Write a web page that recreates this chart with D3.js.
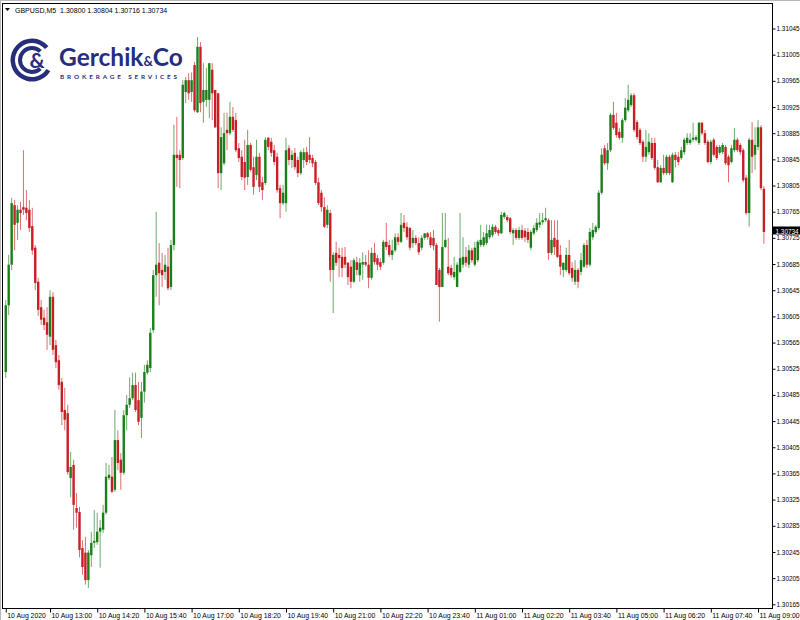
<!DOCTYPE html>
<html><head><meta charset="utf-8">
<script src="https://cdn.jsdelivr.net/npm/d3@7/dist/d3.min.js"></script>
<style>html,body{margin:0;padding:0;background:#fff;}svg{display:block;}</style>
</head><body><svg id="c" width="800" height="620"></svg>
<script>
const symbolTitle = "GBPUSD,M5";
const lastOHLC = ["1.30800","1.30804","1.30716","1.30734"];
const lastPrice = 1.30734;
const xTickLabels = ["10 Aug 2020","10 Aug 13:00","10 Aug 14:20","10 Aug 15:40","10 Aug 17:00","10 Aug 18:20","10 Aug 19:40","10 Aug 21:00","10 Aug 22:20","10 Aug 23:40","11 Aug 01:00","11 Aug 02:20","11 Aug 03:40","11 Aug 05:00","11 Aug 06:20","11 Aug 07:40","11 Aug 09:00"];
const xTickBars = [0,15,31,47,63,79,95,111,127,143,159,175,191,207,223,239,255];
const yTicks = [1.31045,1.31005,1.30965,1.30925,1.30885,1.30845,1.30805,1.30765,1.30725,1.30685,1.30645,1.30605,1.30565,1.30525,1.30485,1.30445,1.30405,1.30365,1.30325,1.30285,1.30245,1.30205,1.30165];

const openP = [
1.30520,1.30622,1.30684,1.30775,1.30748,1.30768,1.30772,1.30771,1.30768,1.30743,1.30710,1.30658,1.30619,1.30603,1.30596,1.30574,1.30635,1.30561,1.30538,1.30505,
1.30462,1.30457,1.30358,1.30378,1.30312,1.30306,1.30251,1.30244,1.30202,1.30240,1.30259,1.30260,1.30276,1.30279,1.30305,1.30358,1.30360,1.30340,1.30416,1.30386,
1.30366,1.30454,1.30470,1.30480,1.30500,1.30477,1.30450,1.30490,1.30519,1.30526,1.30584,1.30668,1.30687,1.30676,1.30673,1.30681,1.30650,1.30714,1.30852,1.30852,
1.30847,1.30948,1.30966,1.30948,1.30989,1.30917,1.31017,1.30933,1.30936,1.30936,1.30982,1.30951,1.30946,1.30824,1.30839,1.30890,1.30885,1.30910,1.30905,1.30862,
1.30849,1.30841,1.30818,1.30867,1.30833,1.30821,1.30849,1.30810,1.30809,1.30878,1.30872,1.30859,1.30849,1.30801,1.30778,1.30778,1.30862,1.30844,1.30855,1.30844,
1.30824,1.30844,1.30856,1.30852,1.30847,1.30841,1.30810,1.30794,1.30772,1.30745,1.30763,1.30676,1.30702,1.30699,1.30696,1.30696,1.30687,1.30681,1.30658,1.30688,
1.30668,1.30684,1.30688,1.30684,1.30664,1.30702,1.30694,1.30688,1.30687,1.30719,1.30714,1.30699,1.30706,1.30726,1.30719,1.30748,1.30742,1.30740,1.30717,1.30725,
1.30717,1.30710,1.30725,1.30732,1.30726,1.30725,1.30714,1.30676,1.30650,1.30711,1.30681,1.30679,1.30665,1.30650,1.30673,1.30684,1.30696,1.30684,1.30706,1.30684,
1.30691,1.30714,1.30714,1.30717,1.30726,1.30729,1.30742,1.30737,1.30732,1.30757,1.30757,1.30755,1.30732,1.30737,1.30725,1.30737,1.30736,1.30734,1.30710,1.30732,
1.30737,1.30745,1.30749,1.30752,1.30752,1.30702,1.30725,1.30722,1.30699,1.30676,1.30676,1.30699,1.30679,1.30658,1.30676,1.30673,1.30681,1.30714,1.30684,1.30726,
1.30734,1.30740,1.30794,1.30862,1.30839,1.30859,1.30913,1.30901,1.30887,1.30878,1.30905,1.30920,1.30928,1.30943,1.30902,1.30890,1.30872,1.30849,1.30856,1.30870,
1.30870,1.30833,1.30810,1.30832,1.30824,1.30849,1.30810,1.30852,1.30849,1.30847,1.30856,1.30870,1.30870,1.30875,1.30875,1.30870,1.30901,1.30885,1.30872,1.30841,
1.30875,1.30864,1.30855,1.30856,1.30864,1.30849,1.30841,1.30859,1.30875,1.30867,1.30859,1.30817,1.30763,1.30875,1.30852,1.30864,1.30894,1.30800];
const highP = [
1.30630,1.30699,1.30786,1.30783,1.30775,1.30780,1.30859,1.30798,1.30783,1.30771,1.30714,1.30664,1.30630,1.30615,1.30619,1.30645,1.30642,1.30569,1.30546,1.30511,
1.30496,1.30470,1.30398,1.30386,1.30335,1.30314,1.30263,1.30268,1.30248,1.30276,1.30309,1.30305,1.30294,1.30317,1.30381,1.30378,1.30390,1.30462,1.30431,1.30396,
1.30462,1.30485,1.30512,1.30519,1.30519,1.30505,1.30505,1.30531,1.30538,1.30587,1.30676,1.30765,1.30717,1.30702,1.30699,1.30710,1.30722,1.30898,1.30910,1.30859,
1.30966,1.30971,1.30977,1.30978,1.30994,1.31032,1.31024,1.30992,1.30985,1.30992,1.30992,1.30951,1.30946,1.30894,1.30916,1.30916,1.30933,1.30925,1.30916,1.30870,
1.30859,1.30875,1.30890,1.30870,1.30849,1.30875,1.30855,1.30818,1.30879,1.30879,1.30878,1.30867,1.30855,1.30806,1.30806,1.30878,1.30867,1.30859,1.30862,1.30849,
1.30859,1.30862,1.30864,1.30879,1.30852,1.30844,1.30817,1.30798,1.30787,1.30775,1.30768,1.30703,1.30719,1.30710,1.30710,1.30711,1.30688,1.30691,1.30694,1.30696,
1.30694,1.30703,1.30699,1.30706,1.30710,1.30717,1.30699,1.30694,1.30722,1.30748,1.30722,1.30722,1.30732,1.30732,1.30763,1.30760,1.30749,1.30742,1.30737,1.30729,
1.30726,1.30729,1.30732,1.30734,1.30734,1.30737,1.30717,1.30679,1.30763,1.30763,1.30725,1.30684,1.30696,1.30688,1.30763,1.30726,1.30711,1.30714,1.30710,1.30719,
1.30722,1.30745,1.30734,1.30745,1.30745,1.30746,1.30745,1.30740,1.30765,1.30765,1.30760,1.30757,1.30740,1.30740,1.30742,1.30745,1.30740,1.30740,1.30737,1.30745,
1.30755,1.30763,1.30763,1.30771,1.30755,1.30752,1.30752,1.30752,1.30714,1.30687,1.30710,1.30722,1.30688,1.30691,1.30679,1.30702,1.30717,1.30722,1.30740,1.30748,
1.30745,1.30798,1.30862,1.30867,1.30870,1.30916,1.30933,1.30916,1.30893,1.30908,1.30939,1.30959,1.30946,1.30946,1.30905,1.30893,1.30875,1.30890,1.30885,1.30878,
1.30878,1.30844,1.30836,1.30852,1.30852,1.30852,1.30855,1.30856,1.30856,1.30864,1.30878,1.30885,1.30885,1.30901,1.30882,1.30902,1.30902,1.30890,1.30875,1.30875,
1.30878,1.30867,1.30867,1.30870,1.30867,1.30852,1.30867,1.30893,1.30878,1.30870,1.30862,1.30821,1.30878,1.30902,1.30894,1.30905,1.30897,1.30804];
const lowP = [
1.30511,1.30607,1.30676,1.30706,1.30722,1.30737,1.30760,1.30752,1.30734,1.30699,1.30645,1.30606,1.30592,1.30584,1.30554,1.30561,1.30546,1.30526,1.30493,1.30439,
1.30431,1.30363,1.30329,1.30279,1.30282,1.30237,1.30210,1.30195,1.30190,1.30222,1.30251,1.30256,1.30221,1.30274,1.30302,1.30355,1.30335,1.30337,1.30370,1.30340,
1.30363,1.30431,1.30465,1.30477,1.30459,1.30439,1.30419,1.30473,1.30516,1.30520,1.30580,1.30635,1.30622,1.30650,1.30661,1.30645,1.30645,1.30706,1.30803,1.30801,
1.30844,1.30931,1.30936,1.30933,1.30917,1.30916,1.30917,1.30901,1.30925,1.30908,1.30905,1.30893,1.30801,1.30798,1.30836,1.30859,1.30882,1.30887,1.30856,1.30841,
1.30813,1.30798,1.30806,1.30826,1.30791,1.30813,1.30795,1.30783,1.30806,1.30859,1.30849,1.30836,1.30794,1.30755,1.30775,1.30765,1.30836,1.30832,1.30829,1.30818,
1.30821,1.30832,1.30836,1.30839,1.30833,1.30806,1.30775,1.30765,1.30740,1.30740,1.30658,1.30610,1.30682,1.30665,1.30665,1.30679,1.30653,1.30648,1.30656,1.30668,
1.30658,1.30661,1.30681,1.30648,1.30661,1.30684,1.30676,1.30676,1.30684,1.30706,1.30696,1.30691,1.30703,1.30714,1.30717,1.30734,1.30722,1.30706,1.30710,1.30714,
1.30699,1.30706,1.30722,1.30722,1.30710,1.30706,1.30653,1.30597,1.30650,1.30710,1.30668,1.30664,1.30661,1.30650,1.30671,1.30679,1.30681,1.30679,1.30687,1.30681,
1.30688,1.30711,1.30711,1.30714,1.30723,1.30726,1.30731,1.30728,1.30731,1.30754,1.30749,1.30731,1.30714,1.30722,1.30722,1.30722,1.30719,1.30717,1.30706,1.30729,
1.30734,1.30740,1.30745,1.30749,1.30691,1.30699,1.30699,1.30694,1.30668,1.30665,1.30673,1.30668,1.30658,1.30653,1.30648,1.30668,1.30679,1.30679,1.30681,1.30722,
1.30731,1.30737,1.30791,1.30836,1.30829,1.30856,1.30890,1.30878,1.30875,1.30870,1.30902,1.30917,1.30925,1.30887,1.30875,1.30867,1.30841,1.30841,1.30852,1.30844,
1.30829,1.30809,1.30809,1.30821,1.30821,1.30821,1.30809,1.30833,1.30836,1.30844,1.30852,1.30867,1.30867,1.30872,1.30872,1.30867,1.30882,1.30867,1.30839,1.30838,
1.30849,1.30844,1.30852,1.30853,1.30836,1.30810,1.30839,1.30856,1.30856,1.30852,1.30810,1.30760,1.30742,1.30824,1.30829,1.30859,1.30798,1.30716];
const closeP = [
1.30622,1.30684,1.30778,1.30745,1.30768,1.30763,1.30768,1.30763,1.30740,1.30706,1.30656,1.30615,1.30600,1.30592,1.30577,1.30635,1.30554,1.30535,1.30500,1.30459,
1.30447,1.30367,1.30375,1.30317,1.30305,1.30248,1.30222,1.30202,1.30244,1.30259,1.30262,1.30276,1.30282,1.30305,1.30360,1.30363,1.30337,1.30416,1.30381,1.30366,
1.30454,1.30470,1.30480,1.30500,1.30462,1.30444,1.30490,1.30520,1.30531,1.30580,1.30668,1.30684,1.30671,1.30668,1.30684,1.30648,1.30714,1.30852,1.30847,1.30844,
1.30959,1.30966,1.30946,1.30966,1.30920,1.31017,1.30931,1.30951,1.30951,1.30992,1.30946,1.30894,1.30824,1.30879,1.30885,1.30885,1.30910,1.30890,1.30859,1.30847,
1.30818,1.30817,1.30867,1.30829,1.30803,1.30849,1.30803,1.30798,1.30875,1.30864,1.30855,1.30841,1.30798,1.30778,1.30794,1.30859,1.30844,1.30852,1.30833,1.30824,
1.30856,1.30856,1.30841,1.30844,1.30839,1.30809,1.30778,1.30772,1.30742,1.30768,1.30676,1.30699,1.30687,1.30694,1.30679,1.30684,1.30665,1.30658,1.30691,1.30676,
1.30687,1.30688,1.30684,1.30664,1.30702,1.30688,1.30684,1.30681,1.30719,1.30711,1.30699,1.30706,1.30726,1.30719,1.30745,1.30740,1.30726,1.30710,1.30725,1.30717,
1.30703,1.30725,1.30732,1.30726,1.30714,1.30713,1.30653,1.30650,1.30711,1.30722,1.30671,1.30668,1.30673,1.30684,1.30694,1.30696,1.30687,1.30706,1.30691,1.30710,
1.30719,1.30722,1.30726,1.30732,1.30737,1.30742,1.30734,1.30732,1.30760,1.30763,1.30752,1.30734,1.30737,1.30725,1.30737,1.30725,1.30726,1.30722,1.30734,1.30740,
1.30748,1.30749,1.30752,1.30755,1.30702,1.30722,1.30711,1.30696,1.30681,1.30687,1.30699,1.30671,1.30664,1.30676,1.30658,1.30691,1.30714,1.30684,1.30734,1.30737,
1.30742,1.30794,1.30852,1.30839,1.30859,1.30913,1.30893,1.30882,1.30878,1.30905,1.30924,1.30936,1.30943,1.30890,1.30879,1.30870,1.30849,1.30864,1.30872,1.30847,
1.30832,1.30810,1.30832,1.30824,1.30849,1.30824,1.30852,1.30844,1.30841,1.30859,1.30875,1.30878,1.30875,1.30878,1.30879,1.30901,1.30885,1.30870,1.30841,1.30872,
1.30852,1.30847,1.30864,1.30867,1.30839,1.30836,1.30862,1.30875,1.30859,1.30856,1.30813,1.30763,1.30875,1.30849,1.30867,1.30894,1.30801,1.30734];

const upColor = "#1a7f1a", downColor = "#c81e25", navy = "#262e7c";
const FONT = "'Liberation Sans', Arial, sans-serif";
const LOGOFONT = "Lato, 'Open Sans', sans-serif";

const svg = d3.select("#c");
const plot = {l:3, t:4, r:772, b:608};

// window frame
svg.append("rect").attr("x",0).attr("y",0).attr("width",800).attr("height",620).attr("fill","#fff");
svg.append("line").attr("x1",0).attr("x2",800).attr("y1",0.5).attr("y2",0.5).attr("stroke","#b8b8b8");
svg.append("line").attr("x1",0.5).attr("x2",0.5).attr("y1",0).attr("y2",620).attr("stroke","#b8b8b8");

const x = d3.scaleLinear().domain([0, 257]).range([5.75, 763.9]);
const y = d3.scaleLinear().domain([1.30165, 1.31045]).range([604.3, 28.5]);

const data = openP.map((o,i)=>({i, o, h:highP[i], l:lowP[i], c:closeP[i]}));

svg.append("clipPath").attr("id","clip").append("rect")
  .attr("x",plot.l).attr("y",plot.t).attr("width",plot.r-plot.l).attr("height",plot.b-plot.t);

// logo
const logo = svg.append("g");
const cx = 32, cy = 60;
const arc = d3.arc();
logo.append("path").attr("transform",`translate(${cx},${cy})`)
  .attr("d", arc({innerRadius:17, outerRadius:21.5, startAngle:Math.PI/2+0.55, endAngle:Math.PI*2.5-0.7}))
  .attr("fill", navy);
logo.append("path").attr("transform",`translate(${cx},${cy})`)
  .attr("d", arc({innerRadius:10, outerRadius:14, startAngle:Math.PI/2+0.8, endAngle:Math.PI*2.5-0.8}))
  .attr("fill", navy);
logo.append("text").attr("x",37).attr("y",67.5).attr("text-anchor","middle")
  .attr("font-family",LOGOFONT).attr("font-weight",700).attr("font-size",21)
  .attr("fill",navy).text("&");
const brand = logo.append("text").attr("x",59).attr("y",66)
  .attr("font-family",LOGOFONT).attr("font-weight",700).attr("fill",navy);
brand.append("tspan").attr("font-size",24.5).text("Gerchik");
brand.append("tspan").attr("font-size",13).text("&");
brand.append("tspan").attr("font-size",24.5).text("Co");
logo.append("text").attr("x",60).attr("y",78.6)
  .attr("font-family",LOGOFONT).attr("font-weight",700).attr("font-size",6.4)
  .attr("textLength",117).attr("lengthAdjust","spacing")
  .attr("fill",navy).text("BROKERAGE SERVICES");

// candles
const cg = svg.append("g").attr("clip-path","url(#clip)");
const candle = cg.selectAll("g.cdl").data(data).join("g").attr("class","cdl");
candle.append("line")
  .attr("x1", d=>x(d.i)).attr("x2", d=>x(d.i))
  .attr("y1", d=>y(d.h)).attr("y2", d=>y(d.l))
  .attr("stroke", d=>d.c>=d.o?upColor:downColor).attr("stroke-width",1).attr("stroke-opacity",0.65);
candle.append("rect")
  .attr("x", d=>x(d.i)-1.2).attr("width",2.4)
  .attr("y", d=>y(Math.max(d.o,d.c)))
  .attr("height", d=>Math.max(1, Math.abs(y(d.o)-y(d.c))))
  .attr("fill", d=>d.c>=d.o?upColor:downColor);

// plot border
svg.append("rect").attr("x",plot.l-0.5).attr("y",plot.t-0.5)
  .attr("width",plot.r-plot.l+1).attr("height",plot.b-plot.t+1)
  .attr("fill","none").attr("stroke","#000").attr("stroke-width",1);

// y axis (right)
const yAxis = d3.axisRight(y).tickValues(yTicks).tickSize(3).tickPadding(1).tickFormat(d3.format(".5f"));
const yg = svg.append("g").attr("transform",`translate(${plot.r+0.5},0)`).call(yAxis);
yg.select(".domain").remove();
yg.selectAll("text").attr("font-family",FONT).attr("font-size",6.4).attr("fill","#000");
yg.selectAll("line").attr("stroke","#000");

// x axis (bottom)
const xAxis = d3.axisBottom(x).tickValues(xTickBars).tickSize(4).tickPadding(1)
  .tickFormat((d,i)=>xTickLabels[i]);
const xg = svg.append("g").attr("transform",`translate(0,${plot.b+0.5})`).call(xAxis);
xg.select(".domain").remove();
xg.selectAll("text").attr("font-family",FONT).attr("font-size",6.9).attr("fill","#000")
  .attr("text-anchor","start").attr("dx",1);
xg.selectAll("line").attr("stroke","#000");

// current price label
const py = y(lastPrice);
svg.append("rect").attr("x",773).attr("y",py-5.5).attr("width",27).attr("height",8).attr("fill","#000");
svg.append("text").attr("x",775.5).attr("y",py+1.6).attr("font-family",FONT).attr("font-size",6.4)
  .attr("fill","#fff").text(d3.format(".5f")(lastPrice));

// header
svg.append("path").attr("d","M5,8 L10,8 L7.5,11 Z").attr("fill","#000");
svg.append("text").attr("x",15).attr("y",12.5).attr("font-family",FONT).attr("font-size",7)
  .attr("fill","#000").attr("xml:space","preserve")
  .text(symbolTitle + "  " + lastOHLC.join(" "));
</script></body></html>
